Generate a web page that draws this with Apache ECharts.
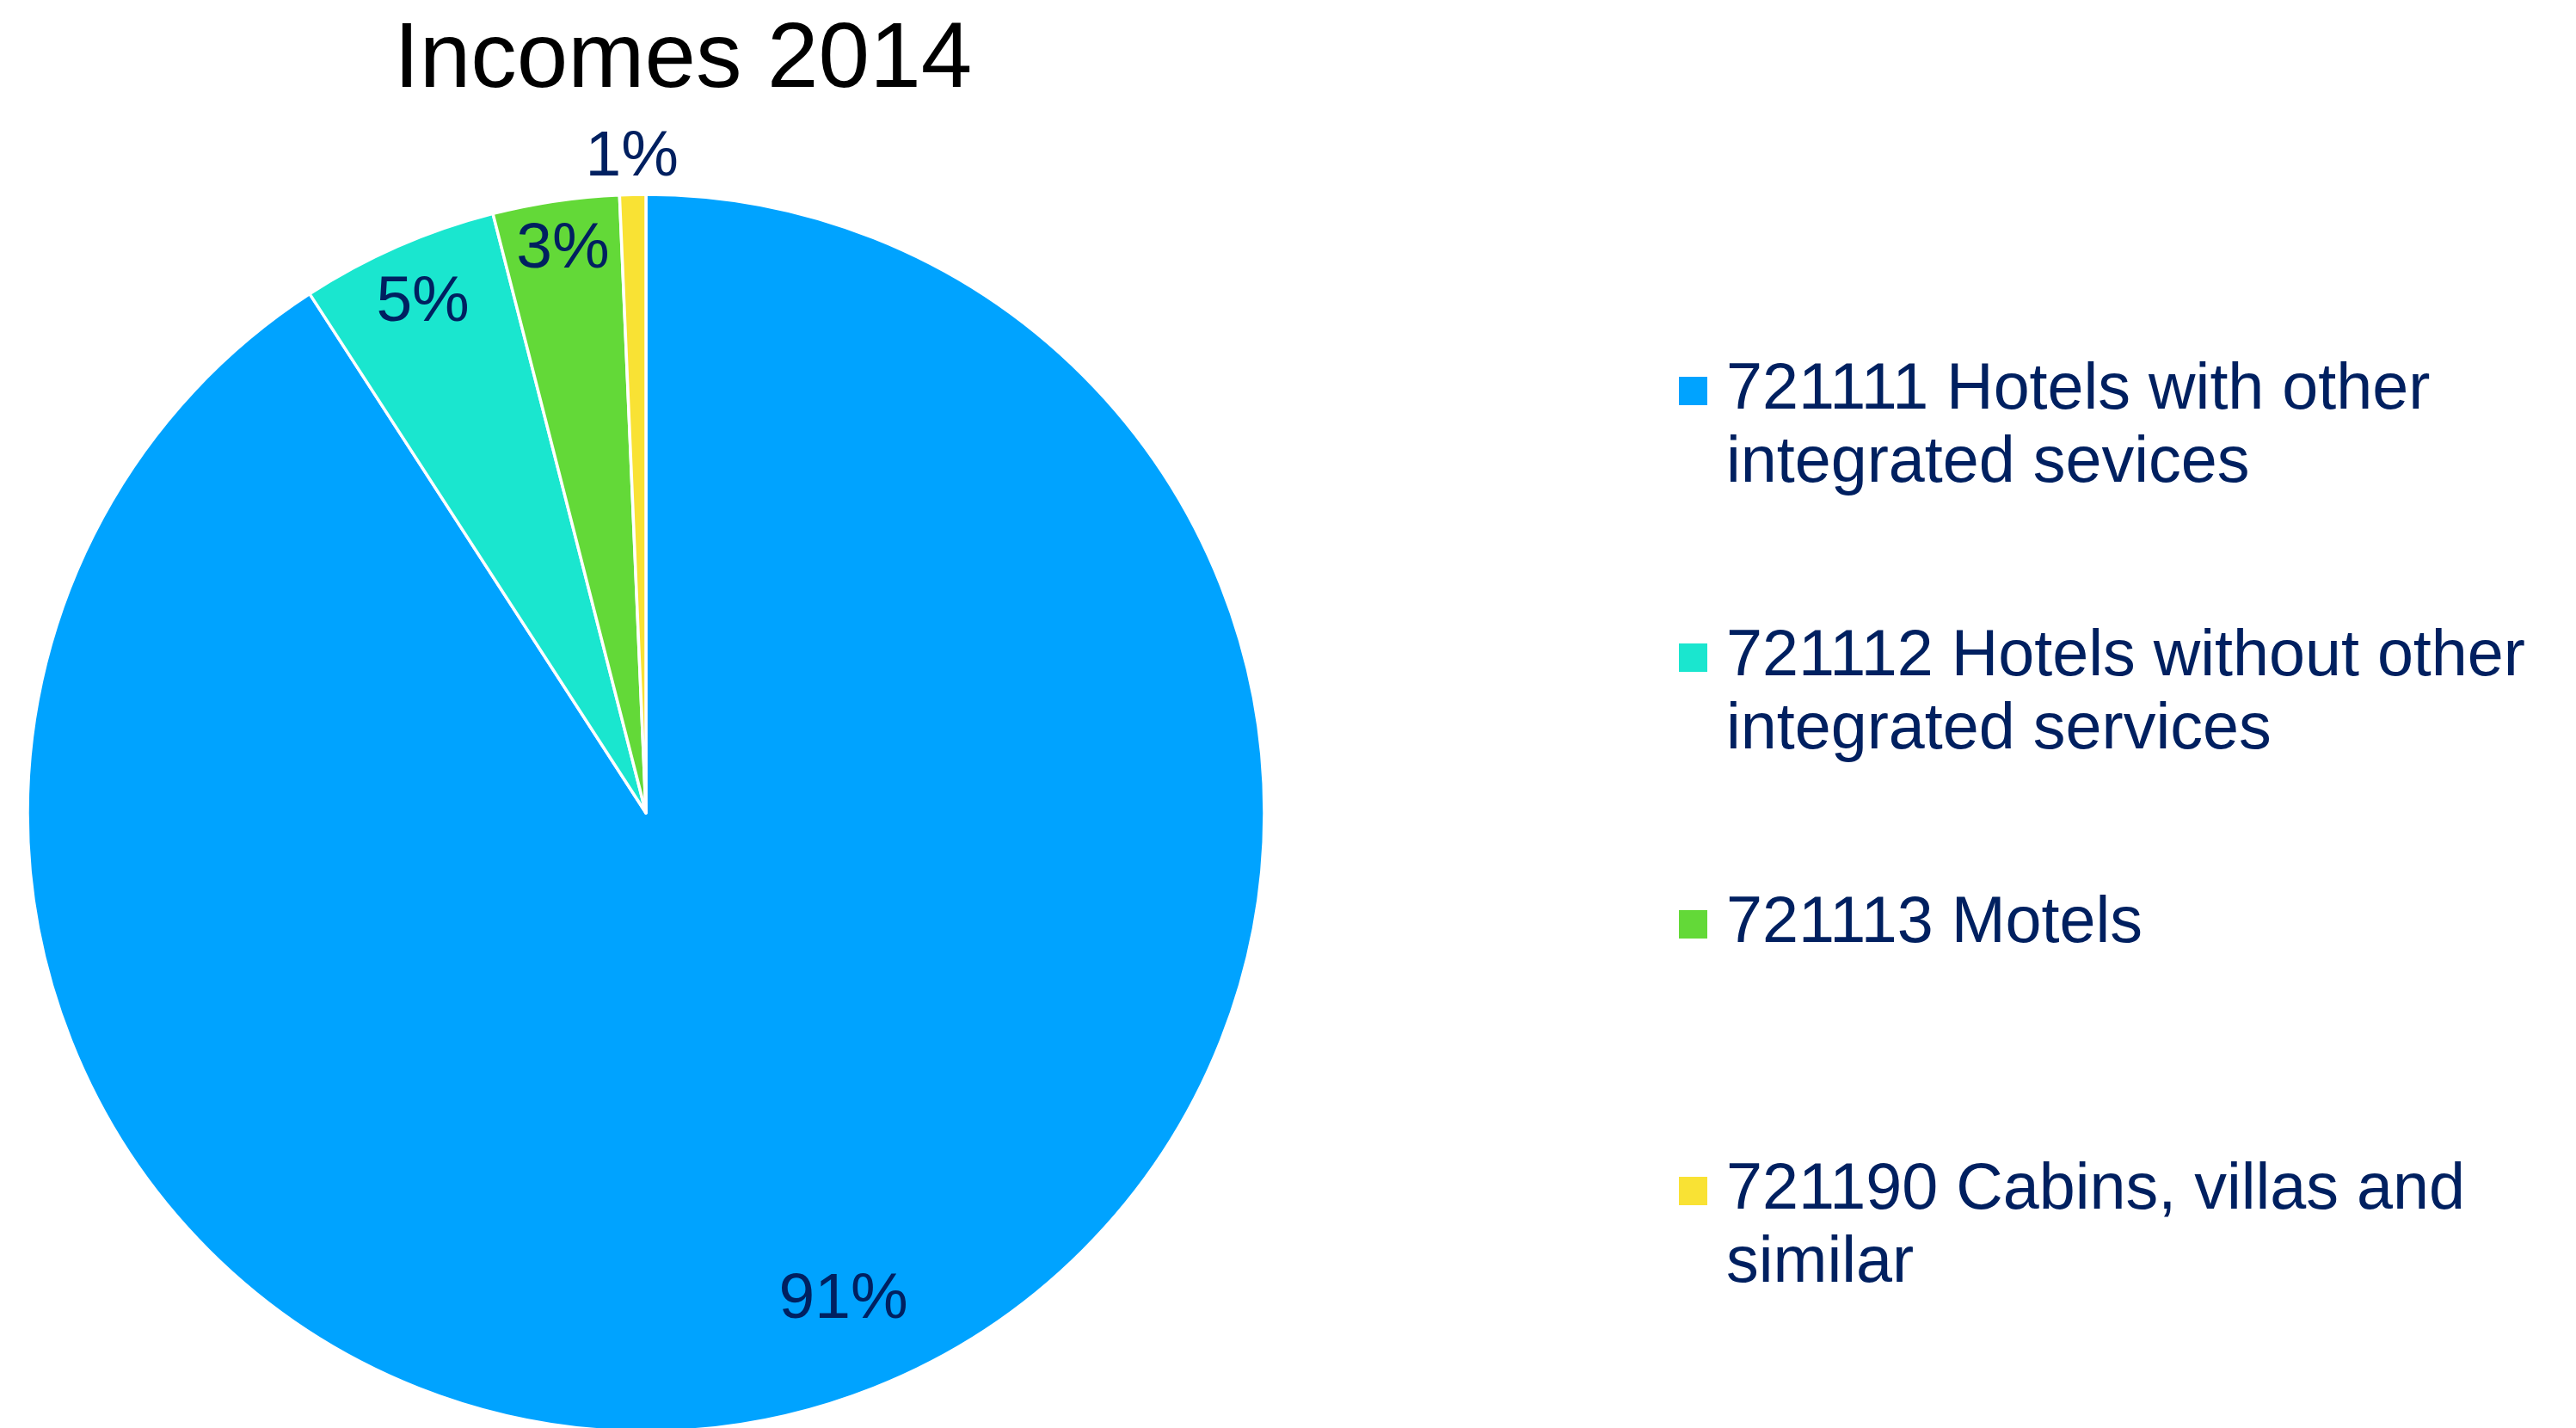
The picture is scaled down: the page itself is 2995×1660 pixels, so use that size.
<!DOCTYPE html>
<html>
<head>
<meta charset="utf-8">
<script src="https://cdn.jsdelivr.net/npm/echarts@6/dist/echarts.min.js"></script>
<style>
  html, body { margin: 0; padding: 0; background: #ffffff; }
  #chart { width: 2995px; height: 1660px; }
</style>
</head>
<body>
<div id="chart"></div>
<script>
// Income shares by accommodation category, 2014 (percent of total)
const categories = [
  '721111 Hotels with other integrated sevices',
  '721112 Hotels without other integrated services',
  '721113 Motels',
  '721190 Cabins, villas and similar'
];
const shares = [90.85, 5.17, 3.30, 0.68];
const sliceColors = ['#00A3FF', '#1AE6CF', '#63D938', '#F9E234'];
const chartTitle = 'Incomes 2014';

// Layout constants
const PIE_CX = 751, PIE_CY = 945, PIE_R = 719;
const labelRadius = [0.85, 0.90, 0.92, 1.06]; // label distance as a fraction of the radius
const labelTurn = [-5.6, 0, 0, 0];            // small angular nudge of each label, degrees
const TEXT_BLUE = '#002060';
const FONT = '"Liberation Sans", Arial, sans-serif';

// Split a legend name into lines of at most maxChars characters at word boundaries
function wrapWords(text, maxChars) {
  const words = text.split(' ');
  const lines = [];
  let cur = '';
  words.forEach(w => {
    const next = cur ? cur + ' ' + w : w;
    if (next.length > maxChars && cur) { lines.push(cur); cur = w; }
    else { cur = next; }
  });
  if (cur) lines.push(cur);
  return lines;
}

const chart = echarts.init(document.getElementById('chart'), null, { renderer: 'canvas' });

chart.setOption({
  animation: false,
  backgroundColor: '#ffffff',
  title: {
    text: chartTitle,
    left: 458,
    top: 18,
    padding: 0,
    textStyle: { fontFamily: FONT, fontSize: 107, fontWeight: 'normal', color: '#000000' }
  },
  legend: {
    orient: 'vertical',
    left: 1952,
    top: 327,
    padding: 0,
    itemGap: 55,
    itemWidth: 33,
    itemHeight: 33,
    icon: 'rect',
    selectedMode: false,
    itemStyle: { borderWidth: 0 },
    data: categories,
    // blank first line keeps the swatch level with the first text line
    formatter: function (name) {
      const lines = wrapWords(name, 27);
      while (lines.length < 2) lines.push('');
      return [''].concat(lines).join('\n');
    },
    textStyle: {
      fontFamily: FONT,
      fontSize: 75.5,
      lineHeight: 85,
      color: TEXT_BLUE,
      padding: [0, 0, 0, 17]
    }
  },
  series: [{
    type: 'pie',
    center: [PIE_CX, PIE_CY],
    radius: [0, PIE_R],
    startAngle: 90,
    clockwise: true,
    avoidLabelOverlap: false,
    silent: true,
    itemStyle: { borderColor: '#ffffff', borderWidth: 3.5 },
    label: {
      show: true,
      position: 'inside',
      fontFamily: FONT,
      fontSize: 75,
      color: TEXT_BLUE,
      formatter: function (p) { return Math.round(p.percent) + '%'; }
    },
    labelLine: { show: false },
    labelLayout: function (p) {
      const r = p.labelRect;
      const lx = r.x + r.width / 2;
      const ly = r.y + r.height / 2;
      const ang = Math.atan2(ly - PIE_CY, lx - PIE_CX) + labelTurn[p.dataIndex] * Math.PI / 180;
      const d = PIE_R * labelRadius[p.dataIndex];
      return {
        x: PIE_CX + d * Math.cos(ang),
        y: PIE_CY + d * Math.sin(ang),
        align: 'center',
        verticalAlign: 'middle'
      };
    },
    data: categories.map((name, i) => ({
      name: name,
      value: shares[i],
      itemStyle: { color: sliceColors[i] }
    }))
  }]
});
</script>
</body>
</html>
